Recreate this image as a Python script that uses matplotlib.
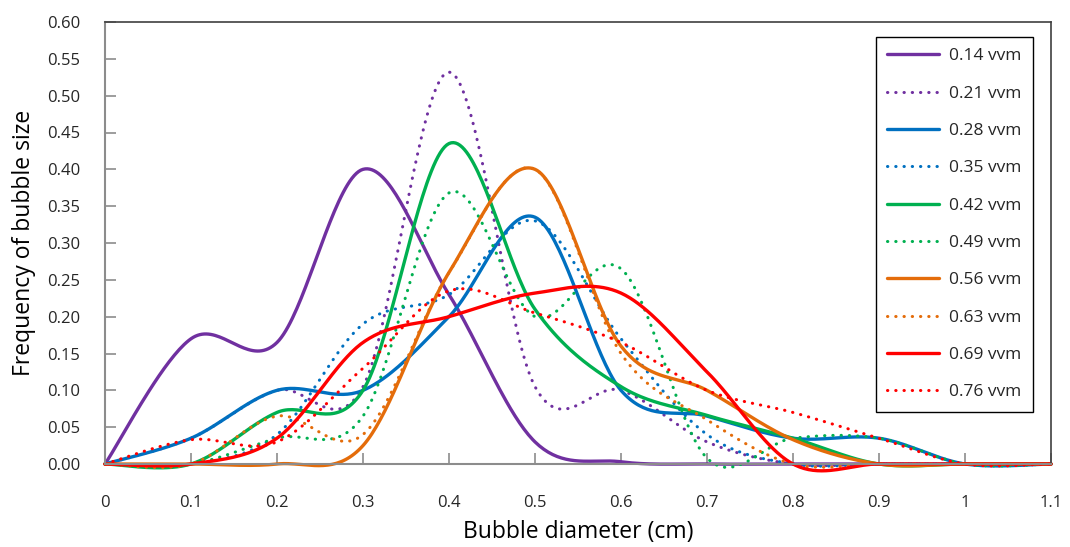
import numpy as np
import matplotlib
matplotlib.use("Agg")
import matplotlib.pyplot as plt

plt.rcParams['font.family'] = ['Open Sans', 'DejaVu Sans']

# ---- data -------------------------------------------------------------
diameter = [0, 0.1, 0.2, 0.3, 0.4, 0.5, 0.6, 0.7, 0.8, 0.9, 1.0, 1.1]

vvm_014 = [0, 0.170, 0.165, 0.400, 0.230, 0.030, 0.003, 0, 0, 0, 0, 0]
vvm_021 = [0, 0.035, 0.100, 0.105, 0.532, 0.105, 0.100, 0.030, 0, 0, 0, 0]
vvm_028 = [0, 0.035, 0.100, 0.100, 0.200, 0.335, 0.100, 0.065, 0.035, 0.035, 0, 0]
vvm_035 = [0, 0, 0.040, 0.190, 0.230, 0.330, 0.170, 0.040, 0, 0, 0, 0]
vvm_042 = [0, 0, 0.070, 0.100, 0.435, 0.210, 0.105, 0.066, 0.035, 0, 0, 0]
vvm_049 = [0, 0, 0.035, 0.065, 0.368, 0.200, 0.265, 0.008, 0.035, 0.035, 0, 0]
vvm_056 = [0, 0, 0, 0.025, 0.260, 0.400, 0.160, 0.100, 0.033, 0, 0, 0]
vvm_063 = [0, 0, 0.065, 0.040, 0.260, 0.400, 0.150, 0.060, 0, 0, 0, 0]
vvm_069 = [0, 0, 0.035, 0.165, 0.200, 0.232, 0.232, 0.125, 0, 0, 0, 0]
vvm_076 = [0, 0.033, 0.030, 0.130, 0.235, 0.205, 0.165, 0.100, 0.070, 0.035, 0, 0]

labels = ["0.14 vvm", "0.21 vvm", "0.28 vvm", "0.35 vvm", "0.42 vvm",
          "0.49 vvm", "0.56 vvm", "0.63 vvm", "0.69 vvm", "0.76 vvm"]
series = [vvm_014, vvm_021, vvm_028, vvm_035, vvm_042,
          vvm_049, vvm_056, vvm_063, vvm_069, vvm_076]
colors = ["#7030A0", "#7030A0", "#0070C0", "#0070C0", "#00B050",
          "#00B050", "#E46C0A", "#E46C0A", "#FF0000", "#FF0000"]
dotted = [False, True, False, True, False, True, False, True, False, True]

x_ticks = [0, 0.1, 0.2, 0.3, 0.4, 0.5, 0.6, 0.7, 0.8, 0.9, 1.0, 1.1]
x_ticklabels = ["0", "0.1", "0.2", "0.3", "0.4", "0.5", "0.6", "0.7",
                "0.8", "0.9", "1", "1.1"]


def smooth(xs, ys, n=40):
    """Excel-style smoothed line (cubic Bezier through every point)."""
    P = np.column_stack([xs, ys]).astype(float)
    m = len(P)
    out = []
    t = np.linspace(0, 1, n)[:, None]
    for i in range(m - 1):
        p0 = P[i]
        p3 = P[i + 1]
        prev = P[i - 1] if i > 0 else P[i]
        nxt = P[i + 2] if i + 2 < m else P[i + 1]
        c1 = p0 + (p3 - prev) / 6.0
        c2 = p3 - (nxt - p0) / 6.0
        seg = ((1 - t) ** 3) * p0 + 3 * ((1 - t) ** 2) * t * c1 \
            + 3 * (1 - t) * t ** 2 * c2 + t ** 3 * p3
        out.append(seg if i == 0 else seg[1:])
    c = np.vstack(out)
    return c[:, 0], c[:, 1]


fig = plt.figure(figsize=(10.70, 5.47), dpi=100)
ax = fig.add_axes([105 / 1070, 83 / 547, 946 / 1070, 442 / 547])

for ys, lab, col, dot in zip(series, labels, colors, dotted):
    sx, sy = smooth(diameter, ys)
    if dot:
        ax.plot(sx, sy, color=col, lw=2.2, linestyle=(0, (0.1, 2.6)),
                dash_capstyle='round', label=lab, clip_on=False)
    else:
        ax.plot(sx, sy, color=col, lw=2.4, label=lab, clip_on=False,
                solid_capstyle='round')

ax.set_xlim(0, 1.1)
ax.set_ylim(0, 0.6)
ax.set_xticks(x_ticks)
ax.set_xticklabels(x_ticklabels)
ax.set_yticks(np.arange(0, 0.601, 0.05))
ax.set_yticklabels([f"{v:.2f}" for v in np.arange(0, 0.601, 0.05)])

ax.tick_params(axis='both', direction='in', length=8, width=1.2,
               color='#8c8c8c', labelsize=12, labelcolor='#262626')
ax.tick_params(axis='x', pad=22)
ax.tick_params(axis='y', pad=18)
for s in ['left', 'bottom']:
    ax.spines[s].set_color('#8c8c8c')
    ax.spines[s].set_linewidth(1.5)
for s in ['top', 'right']:
    ax.spines[s].set_color('#404040')
    ax.spines[s].set_linewidth(1.2)

ax.set_xlabel("Bubble diameter (cm)", fontsize=16.5, color='#000000', labelpad=7)
ax.set_ylabel("Frequency of bubble size", fontsize=16.5, color='#000000', labelpad=8)

leg = ax.legend(loc='upper right', bbox_to_anchor=(0.981, 0.966),
                fontsize=12.5, frameon=True, fancybox=False, shadow=False,
                framealpha=1, edgecolor='#000000', handlelength=3.0,
                labelspacing=1.22, borderpad=0.65, handletextpad=0.6,
                borderaxespad=0)
leg.get_frame().set_linewidth(1.0)
for t in leg.get_texts():
    t.set_color('#262626')

fig.savefig("out.png", dpi=100)
